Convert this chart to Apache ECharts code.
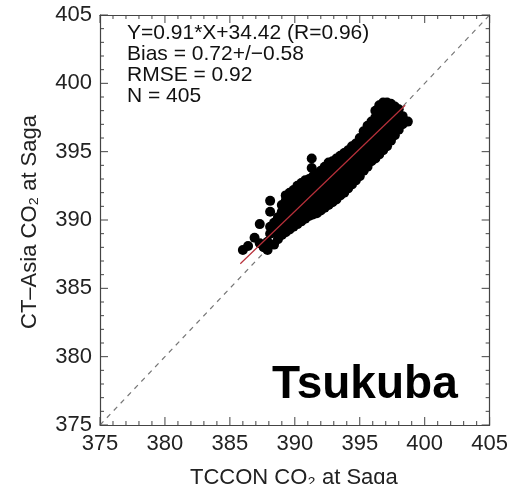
<!DOCTYPE html>
<html><head><meta charset="utf-8">
<script src="https://cdn.jsdelivr.net/npm/echarts@6/dist/echarts.min.js"></script>
<style>html,body{margin:0;padding:0;background:#fff}#c{width:511px;height:484px}</style>
</head><body><div id="c"></div>
<script>
// Scatter values: each TCCON x with the CT-Asia y values at it
const tcconX = [386.0,386.4,386.9,387.3,387.6,387.9,388.1,388.4,388.7,389.0,389.3,389.6,389.9,390.2,390.5,390.8,391.1,391.3,391.4,391.7,392.0,392.3,392.6,392.9,393.2,393.5,393.8,394.1,394.4,394.7,395.0,395.3,395.6,395.9,396.2,396.5,396.8,397.1,397.4,397.7,398.0,398.3,398.7];
const ctAsiaY = [
 [387.8],
 [388.1],
 [388.7],
 [388.3,389.7],
 [388.0],
 [387.8,388.4],
 [389.0,389.5,390.6,391.4],
 [388.2,389.2,389.8],
 [388.6,389.1,389.6,390.2],
 [388.9,389.4,390.0,390.6,391.1],
 [389.1,389.6,390.2,390.8,391.4,391.8],
 [389.3,389.8,390.3,390.9,391.5,392.0],
 [389.5,390.0,390.6,391.2,391.8,392.2],
 [389.7,390.2,390.8,391.4,392.0,392.5],
 [389.9,390.4,391.0,391.6,392.2,392.7],
 [390.1,390.6,391.2,391.8,392.4,392.9],
 [390.3,390.8,391.4,392.0,392.6,393.0],
 [393.8,394.5],
 [390.4,391.0,391.6,392.2,392.8,393.2],
 [390.5,391.1,391.7,392.3,392.9,393.4],
 [390.7,391.2,391.8,392.4,393.0,393.6],
 [390.9,391.5,392.1,392.7,393.3,393.9],
 [391.1,391.7,392.3,392.9,393.5,394.2],
 [391.3,391.9,392.5,393.1,393.7,394.3],
 [391.5,392.1,392.7,393.3,393.9,394.5],
 [391.8,392.4,393.0,393.6,394.2,394.7],
 [392.0,392.6,393.2,393.8,394.4,394.9],
 [392.3,392.9,393.5,394.1,394.7,395.1],
 [392.6,393.2,393.8,394.4,395.0,395.4],
 [392.9,393.5,394.1,394.7,395.3,395.6],
 [393.2,393.8,394.4,395.0,395.6,396.0],
 [393.6,394.2,394.8,395.4,396.0,396.5],
 [393.9,394.5,395.1,395.7,396.3,396.9],
 [394.3,394.8,395.4,396.0,396.6,397.2],
 [394.5,395.1,395.7,396.3,396.9,397.5,398.0],
 [394.8,395.4,396.0,396.6,397.2,397.8,398.4],
 [395.1,395.7,396.3,396.9,397.5,398.1,398.6],
 [395.4,395.9,396.5,397.1,397.7,398.3,398.6],
 [395.8,396.3,396.9,397.5,398.1,398.5],
 [396.2,396.7,397.3,397.9,398.3],
 [396.6,397.1,397.7,398.1],
 [397.0,397.6],
 [397.2]
];
// Regression line endpoints (as drawn)
const regX = [385.8, 398.5];
const regY = [386.8, 398.4];
// 1:1 line
const oneX = [375, 405];
const oneY = [375, 405];
// Axis range and ticks
const axisMin = 375, axisMax = 405, axisStep = 5;
const tickValues = [375,376,377,378,379,380,381,382,383,384,385,386,387,388,389,390,391,392,393,394,395,396,397,398,399,400,401,402,403,404,405];
// Annotation texts
const statLines = ['Y=0.91*X+34.42 (R=0.96)', 'Bias = 0.72+/\u22120.58', 'RMSE = 0.92', 'N = 405'];
const siteName = 'Tsukuba';
const xTitle = 'TCCON CO\u2082 at Saga';
const yTitle = 'CT\u2013Asia CO\u2082 at Saga';

const scatterData = [];
tcconX.forEach((x, i) => ctAsiaY[i].forEach(y => scatterData.push([x, y])));

const FONT = '"Liberation Sans", Arial, Helvetica, sans-serif';
const axisColor = '#444';
function mkAxis(pos, showLabel) {
  return {
    type: 'value', position: pos, min: axisMin, max: axisMax, interval: axisStep,
    axisLine: { show: true, onZero: false, lineStyle: { color: axisColor, width: 1.2 } },
    axisTick: { show: false },
    minorTick: { show: false },
    splitLine: { show: false },
    axisLabel: { show: showLabel, color: '#222', fontSize: 22, fontFamily: FONT, margin: 8 }
  };
}
const chart = echarts.init(document.getElementById('c'), null, { renderer: 'canvas' });
const statGraphics = statLines.map((t, i) => ({
  type: 'text', left: 127, top: 23 + i * 21, z: 100,
  style: { text: t, fill: '#111', font: '21px ' + FONT }
}));
function renderTicks(params, api) {
  const v = api.value(0);
  const len = (v % axisStep === 0) ? 8 : 4;
  const b = api.coord([v, axisMin]);
  const t = api.coord([v, axisMax]);
  const l = api.coord([axisMin, v]);
  const r = api.coord([axisMax, v]);
  const st = { stroke: axisColor, lineWidth: 1 };
  return { type: 'group', children: [
    { type: 'line', shape: { x1: b[0], y1: b[1], x2: b[0], y2: b[1] - len }, style: st },
    { type: 'line', shape: { x1: t[0], y1: t[1], x2: t[0], y2: t[1] + len }, style: st },
    { type: 'line', shape: { x1: l[0], y1: l[1], x2: l[0] + len, y2: l[1] }, style: st },
    { type: 'line', shape: { x1: r[0], y1: r[1], x2: r[0] - len, y2: r[1] }, style: st }
  ]};
}
chart.setOption({
  animation: false,
  backgroundColor: '#fff',
  grid: { left: 100, top: 15, width: 390, height: 410 },
  xAxis: [mkAxis('bottom', true), mkAxis('top', false)],
  yAxis: [mkAxis('left', true), mkAxis('right', false)],
  series: [
    { type: 'custom', data: tickValues.map(v => [v]), renderItem: renderTicks, clip: false, z: 5, silent: true },
    { type: 'line', data: oneX.map((x, i) => [x, oneY[i]]), symbol: 'none', z: 1,
      lineStyle: { color: '#777', width: 1.2, type: [5, 5] } },
    { type: 'scatter', data: scatterData, symbol: 'circle', symbolSize: 10, z: 2,
      itemStyle: { color: '#000', opacity: 1 } },
    { type: 'line', data: regX.map((x, i) => [x, regY[i]]), symbol: 'none', z: 3,
      lineStyle: { color: '#b8303a', width: 1.2 } }
  ],
  graphic: statGraphics.concat([
    { type: 'text', left: 272, top: 362, z: 100,
      style: { text: siteName, fill: '#000', font: 'bold 46px ' + FONT } },
    { type: 'text', left: 190, top: 467, z: 100,
      style: { text: xTitle, fill: '#222', font: '22px ' + FONT } },
    { type: 'text', x: 30, y: 222, rotation: Math.PI / 2, z: 100,
      style: { text: yTitle, fill: '#222', font: '22px ' + FONT, align: 'center', verticalAlign: 'middle' } }
  ])
});
</script></body></html>
